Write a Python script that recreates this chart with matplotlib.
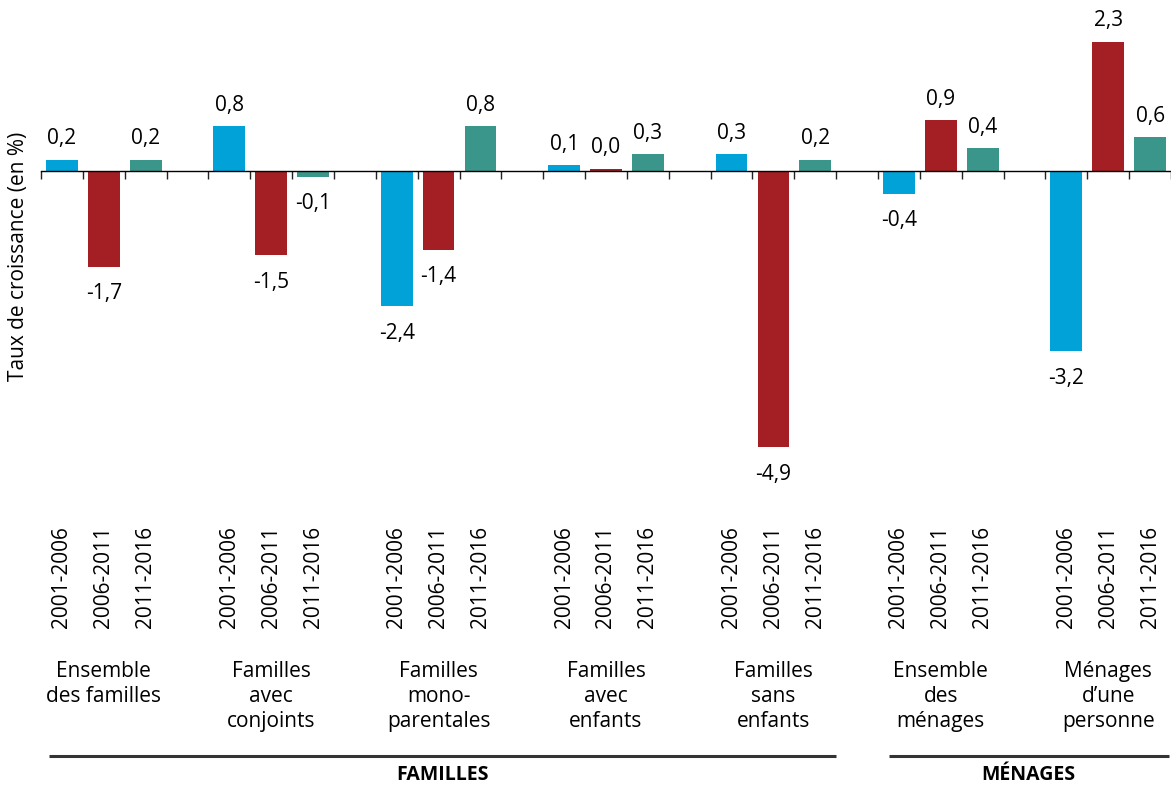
import matplotlib
matplotlib.use("Agg")
import matplotlib.pyplot as plt
import matplotlib.transforms as mtransforms

plt.rcParams['font.family'] = ['Open Sans', 'DejaVu Sans']

categories = ["Ensemble\ndes familles", "Familles\navec\nconjoints", "Familles\nmono-\nparentales",
              "Familles\navec\nenfants", "Familles\nsans\nenfants", "Ensemble\ndes\nménages",
              "Ménages\nd\u2019une\npersonne"]
periods = ["2001-2006", "2006-2011", "2011-2016"]
v_2001_2006 = [0.2, 0.8, -2.4, 0.1, 0.3, -0.4, -3.2]
v_2006_2011 = [-1.7, -1.5, -1.4, 0.04, -4.9, 0.9, 2.3]
v_2011_2016 = [0.2, -0.1, 0.8, 0.3, 0.2, 0.4, 0.6]
series = [v_2001_2006, v_2006_2011, v_2011_2016]
colors = ["#00A2D8", "#A31F24", "#3A968A"]
sections = [("FAMILLES", 0, 4), ("MÉNAGES", 5, 6)]
ylabel = "Taux de croissance (en %)"

W, H = 1171, 785
fig = plt.figure(figsize=(W / 100, H / 100), dpi=100)
ax = fig.add_axes([41 / W, 1 - 500 / H, 1 - 41 / W, 500 / H])

n = len(categories)
slots = n * 4 - 1
ax.set_xlim(-0.5, slots - 0.5)
ax.set_ylim(-(500 - 171) / 56.3, 171 / 56.3)

fs = 15
for p, vals in enumerate(series):
    xs = [g * 4 + p for g in range(n)]
    ax.bar(xs, vals, width=0.76, color=colors[p], zorder=2)
    for x, v in zip(xs, vals):
        label = f"{v:.1f}".replace(".", ",")
        if v >= 0:
            ax.annotate(label, (x, v), xytext=(0, 11),
                        textcoords="offset points", ha="center", va="baseline", fontsize=fs)
        else:
            ax.annotate(label, (x, v), xytext=(0, -12),
                        textcoords="offset points", ha="center", va="top", fontsize=fs)

for s in ["left", "right", "top"]:
    ax.spines[s].set_visible(False)
ax.spines["bottom"].set_position(("data", 0))
ax.spines["bottom"].set_linewidth(1.0)
ax.spines["bottom"].set_zorder(3)
ax.set_xticks([k - 0.5 for k in range(slots + 1)])
ax.set_xticklabels([])
ax.tick_params(axis="x", direction="out", length=6, width=1.0, colors="#222222")
ax.set_yticks([])

trans = mtransforms.blended_transform_factory(ax.transData, fig.transFigure)
for g in range(n):
    for p in range(3):
        ax.text(g * 4 + p, 1 - 526 / H, periods[p], rotation=90, ha="center", va="top",
                fontsize=fs, transform=trans)
    ax.text(g * 4 + 1, 1 - 661 / H, categories[g], ha="center", va="top", fontsize=fs,
            linespacing=1.25, transform=trans)

for name, g0, g1 in sections:
    x0 = g0 * 4 - 0.5 + (0.2 if g0 == 0 else 0.25)
    x1 = g1 * 4 + 2.5 - (0.0 if g1 == 4 else 0.05)
    ax.plot([x0, x1], [1 - 756 / H] * 2, color="#333333", lw=2.2, transform=trans,
            clip_on=False, solid_capstyle="butt")
    ax.text((x0 + x1) / 2, 1 - 775 / H, name, ha="center", va="center", fontsize=fs - 1,
            fontweight="bold", transform=trans)

fig.text(19 / W, 1 - 256 / H, ylabel, rotation=90, ha="center", va="center", fontsize=fs)

fig.savefig("out.png", dpi=100)
